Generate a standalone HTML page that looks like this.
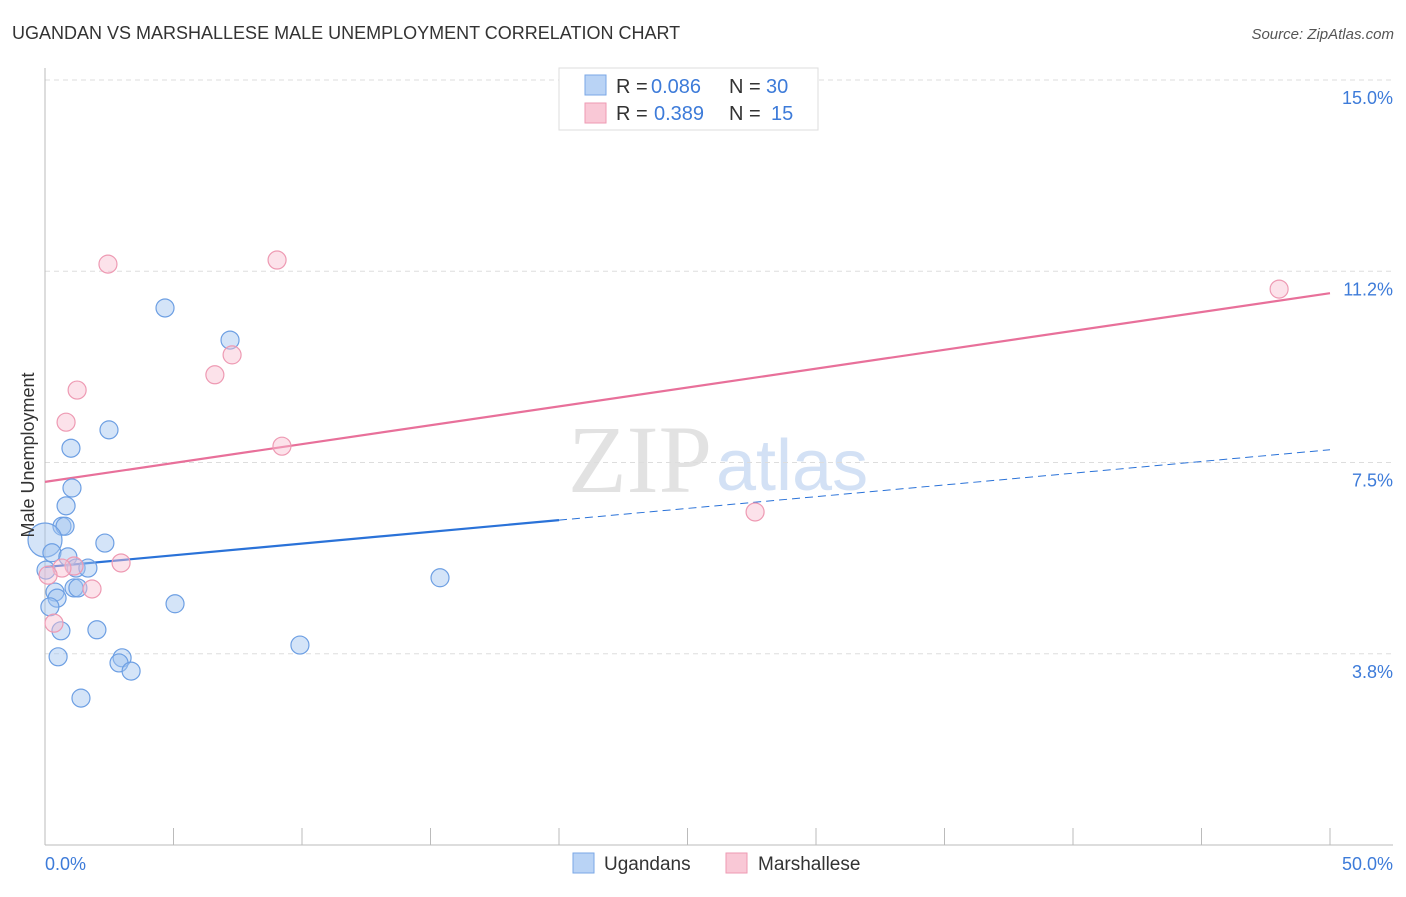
<!DOCTYPE html>
<html><head><meta charset="utf-8"><style>
body{margin:0;background:#fff;font-family:"Liberation Sans",sans-serif}
</style></head><body>
<svg width="1406" height="892" xmlns="http://www.w3.org/2000/svg" style="font-family:'Liberation Sans',sans-serif">
<text x="12" y="39" font-size="18" fill="#333">UGANDAN VS MARSHALLESE MALE UNEMPLOYMENT CORRELATION CHART</text>
<text x="1394" y="39" font-size="15" fill="#555" text-anchor="end" font-style="italic">Source: ZipAtlas.com</text>
<text x="712" y="492" font-size="96" fill="#e2e2e2" text-anchor="end" font-family="Liberation Serif,serif">ZIP</text>
<text x="716" y="490" font-size="72" fill="#d3e1f5">atlas</text>
<g id="grid"></g>
<g id="axes"></g>
<g id="lines"></g>
<g id="pts"></g>
<text transform="translate(34,455) rotate(-90)" font-size="18" fill="#333" text-anchor="middle">Male Unemployment</text>
<text x="45" y="870" font-size="18" fill="#3d7bd9">0.0%</text>
<text x="1393" y="870" font-size="18" fill="#3d7bd9" text-anchor="end">50.0%</text>
<g font-size="20">
<rect x="559" y="68" width="259" height="62" fill="#fff" stroke="#ddd"/>
<rect x="585" y="75" width="21" height="20" fill="#b9d3f5" stroke="#7aa7e6"/>
<rect x="585" y="103" width="21" height="20" fill="#f9c8d6" stroke="#ee9ab3"/>
<text x="616" y="93" fill="#333">R =</text>
<text x="651" y="93" fill="#3d7bd9">0.086</text>
<text x="729" y="93" fill="#333">N =</text>
<text x="766" y="93" fill="#3d7bd9">30</text>
<text x="616" y="120" fill="#333">R =</text>
<text x="654" y="120" fill="#3d7bd9">0.389</text>
<text x="729" y="120" fill="#333">N =</text>
<text x="771" y="120" fill="#3d7bd9">15</text>
</g>
<g>
<rect x="573" y="853" width="21" height="20" fill="#b9d3f5" stroke="#7aa7e6"/>
<text x="604" y="870" font-size="19" fill="#333">Ugandans</text>
<rect x="726" y="853" width="21" height="20" fill="#f9c8d6" stroke="#ee9ab3"/>
<text x="758" y="870" font-size="19" fill="#333">Marshallese</text>
</g>
</svg>
<script>
const yTicks=[3.75,7.5,11.25,15];
const yTickLabels=["3.8%","7.5%","11.2%","15.0%"];
const ugX=[4.67,7.2,2.49,1.01,1.05,0.82,0.66,0.78,2.33,0,0.27,0.89,1.21,1.67,0.04,0.39,0.47,1.13,1.28,0.19,0.62,2.02,5.06,15.37,0.51,3.0,2.88,3.35,9.92,1.4];
const ugY=[10.53,9.9,8.14,7.78,7.0,6.65,6.25,6.25,5.92,5.98,5.73,5.65,5.43,5.43,5.39,4.96,4.84,5.04,5.04,4.67,4.2,4.22,4.73,5.24,3.69,3.67,3.57,3.41,3.92,2.88];
const ugR=[9,9,9,9,9,9,9,9,9,17,9,9,9,9,9,9,9,9,9,9,9,9,9,9,9,9,9,9,9,9];
const mhX=[2.45,9.03,7.28,6.61,1.25,0.82,9.22,27.63,48.02,2.96,1.83,1.13,0.66,0.12,0.35];
const mhY=[11.39,11.47,9.61,9.22,8.92,8.29,7.82,6.53,10.9,5.53,5.02,5.47,5.43,5.29,4.35];
const ugTrend=[5.45,7.75], mhTrend=[7.12,10.82], ugSolidEnd=20;
const NS="http://www.w3.org/2000/svg";
const xs=v=>45+v/50*1285, ys=v=>845-v*51;
function mk(p,t,a){const e=document.createElementNS(NS,t);for(const k in a)e.setAttribute(k,a[k]);document.getElementById(p).appendChild(e);return e;}
yTicks.forEach((t,i)=>{
 const g=mk('grid','line',{x1:45,x2:1393,y1:ys(t),y2:ys(t),stroke:'#ddd','stroke-dasharray':'5,4'});
 
 
 const l=mk('grid','text',{x:1393,y:ys(t)+24,'font-size':18,fill:'#3d7bd9','text-anchor':'end'});
 l.textContent=yTickLabels[i];
 
 
});
const ax=mk('axes','line',{x1:45,x2:45,y1:68,y2:845,stroke:'#bbb'});


const bx=mk('axes','line',{x1:45,x2:1393,y1:845,y2:845,stroke:'#bbb'});


for(let i=0;i<=10;i++){const t=mk('axes','line',{x1:xs(i*5),x2:xs(i*5),y1:828,y2:845,stroke:'#bbb'});
 
 }
const ly=x=>ugTrend[0]+(ugTrend[1]-ugTrend[0])*x/50;
let e=mk('lines','line',{x1:xs(0),y1:ys(ly(0)),x2:xs(ugSolidEnd),y2:ys(ly(ugSolidEnd)),stroke:'#2a72d8','stroke-width':2.2});


e=mk('lines','line',{x1:xs(ugSolidEnd),y1:ys(ly(ugSolidEnd)),x2:xs(50),y2:ys(ly(50)),stroke:'#2a72d8','stroke-width':1,'stroke-dasharray':'8,5'});


e=mk('lines','line',{x1:xs(0),y1:ys(mhTrend[0]),x2:xs(50),y2:ys(mhTrend[1]),stroke:'#e8709a','stroke-width':2.2});


ugX.forEach((x,i)=>{const c=mk('pts','circle',{cx:xs(x),cy:ys(ugY[i]),r:ugR[i],fill:'rgba(160,195,240,0.45)',stroke:'#6d9fe3','stroke-width':1.2});
 
 });
mhX.forEach((x,i)=>{const c=mk('pts','circle',{cx:xs(x),cy:ys(mhY[i]),r:9,fill:'rgba(248,190,208,0.45)',stroke:'#ee9ab3','stroke-width':1.2});
 
 });
</script>
</body></html>
